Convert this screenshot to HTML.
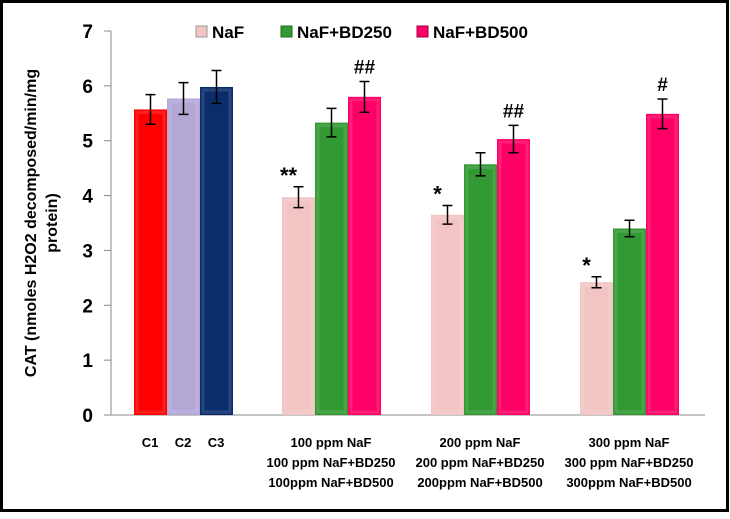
<!DOCTYPE html>
<html><head><meta charset="utf-8"><style>
body{margin:0;background:#fff}
svg text{font-family:"Liberation Sans",sans-serif;font-weight:bold}
</style></head><body>
<svg width="730" height="514" xmlns="http://www.w3.org/2000/svg">
<rect x="1.5" y="1.5" width="726" height="509" fill="#fff" stroke="#000" stroke-width="3"/>
<g id="plot"></g>
<text transform="translate(38,223) rotate(-90)" text-anchor="middle" font-size="16" fill="#000"><tspan x="0" dy="-2">CAT (nmoles H2O2 decomposed/min/mg</tspan><tspan x="0" dy="21">protein)</tspan></text>
<g font-size="17">
<rect x="196" y="26" width="11" height="11" fill="#f2c4c4" stroke="#999"/>
<text x="212" y="38">NaF</text>
<rect x="281" y="26" width="11" height="11" fill="#339933" stroke="#1e6b1e"/>
<text x="297" y="38">NaF+BD250</text>
<rect x="417" y="26" width="11" height="11" fill="#ff0066" stroke="#a0003f"/>
<text x="433" y="38">NaF+BD500</text>
</g>
</svg>
<script>
const ticks=[0,1,2,3,4,5,6,7];
const barLabels=["C1","C2","C3","100-NaF","100-BD250","100-BD500","200-NaF","200-BD250","200-BD500","300-NaF","300-BD250","300-BD500"];
const values=[5.57,5.77,5.98,3.97,5.33,5.80,3.65,4.57,5.03,2.42,3.40,5.49];
const errors=[0.27,0.29,0.30,0.19,0.26,0.28,0.17,0.21,0.25,0.10,0.15,0.27];
const marks=["","","","**","","##","*","","##","*","","#"];
const colors=["#ff0000","#b4a7d6","#0c2d6b","#f2c4c4","#339933","#ff0066","#f2c4c4","#339933","#ff0066","#f2c4c4","#339933","#ff0066"];
const barX=[134,167,200,282,315,348,431,464,497,580,613,646];
const NS="http://www.w3.org/2000/svg";
const g=document.getElementById('plot');
const y0=415,yTop=31,ymax=7;
function y(v){return y0-(v/ymax)*(y0-yTop);}
function mk(t,a){const e=document.createElementNS(NS,t);for(const k in a)e.setAttribute(k,a[k]);g.appendChild(e);return e;}
let ax=mk('line',{x1:111,y1:yTop,x2:111,y2:y0,stroke:'#888'});


let xa=mk('line',{x1:104,y1:y0,x2:705,y2:y0,stroke:'#888'});


ticks.forEach(t=>{
  let l=mk('line',{x1:104,y1:y(t),x2:111,y2:y(t),stroke:'#888'});
  
  
  let tx=mk('text',{x:93,y:y(t)+7,'text-anchor':'end','font-size':19});
  tx.textContent=t;
  
  
});
values.forEach((v,i)=>{
  const x=barX[i],w=33;
  let r=mk('rect',{x:x,y:y(v),width:w,height:y0-y(v),fill:colors[i]});
  
  
  mk('rect',{x:x+3,y:y(v)+3,width:w-6,height:y0-y(v)-6,fill:'none',stroke:'rgba(255,255,255,0.12)','stroke-width':3});
  const cx=x+w/2,e=errors[i];
  let eb=mk('path',{d:`M${cx},${y(v+e)}V${y(v-e)}M${cx-5},${y(v+e)}H${cx+5}M${cx-5},${y(v-e)}H${cx+5}`,stroke:'#000','stroke-width':1.5,fill:'none'});
  
  
  if(marks[i]){
    const star=marks[i][0]=='*';
    let m=mk('text',{x:cx-(star?10:0),y:y(v+e)-(star?4:8),'text-anchor':'middle','font-size':star?22:19,'font-weight':'normal'});
    m.textContent=marks[i];
    
    
  }
});
const catText=[["C1",150,447],["C2",183,447],["C3",216,447],
["100 ppm NaF",331,447],["100 ppm NaF+BD250",331,467],["100ppm NaF+BD500",331,487],
["200 ppm NaF",480,447],["200 ppm NaF+BD250",480,467],["200ppm NaF+BD500",480,487],
["300 ppm NaF",629,447],["300 ppm NaF+BD250",629,467],["300ppm NaF+BD500",629,487]];
catText.forEach(c=>{
  let t=mk('text',{x:c[1],y:c[2],'text-anchor':'middle','font-size':13});
  t.textContent=c[0];
  
  
});
</script>
</body></html>
